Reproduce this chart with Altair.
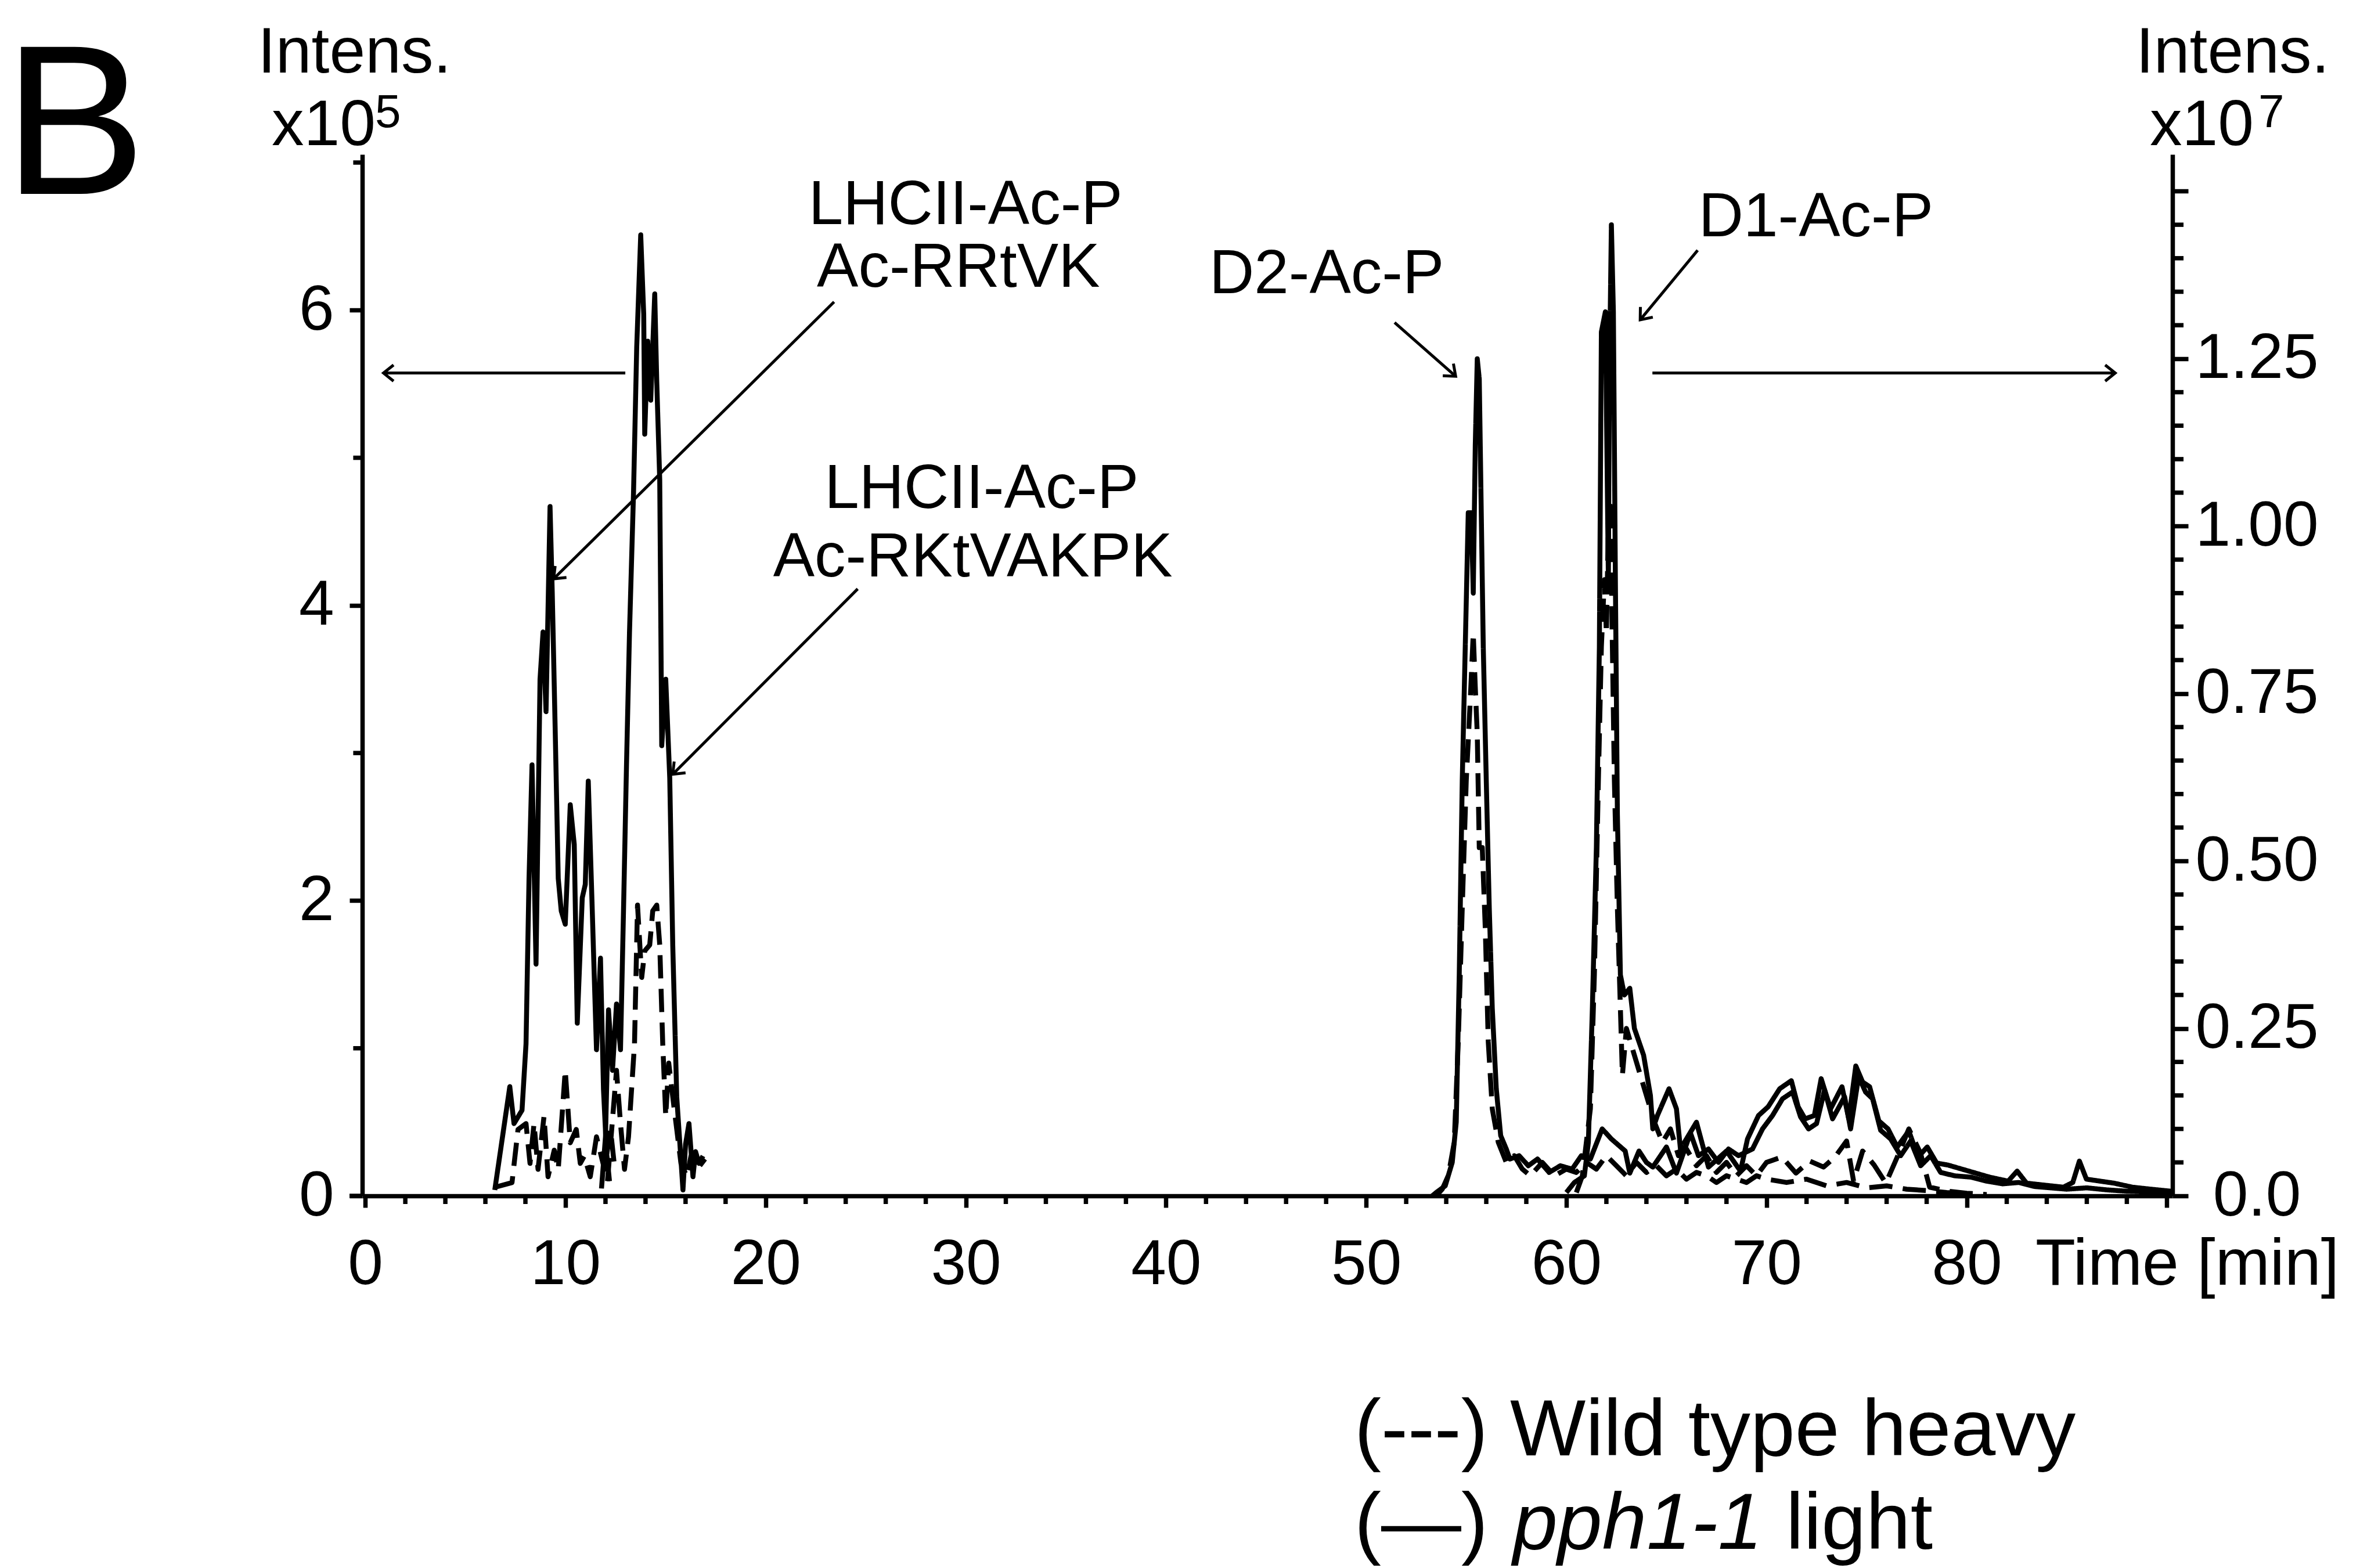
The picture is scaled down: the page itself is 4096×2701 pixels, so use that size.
import altair as alt
import pandas as pd

# ---------------- chromatogram traces ----------------
# Left axis (Intens. x10^5): LHCII-Ac-P peptides
rrtvk_light_t = [6.47, 7.22, 7.43, 7.83, 8.03, 8.18, 8.33, 8.53, 8.73, 8.88, 9.03, 9.23, 9.34, 9.49, 9.64,
                 9.79, 9.99, 10.24, 10.44, 10.59, 10.84, 10.99, 11.14, 11.34, 11.55, 11.75, 11.9, 12.05, 12.2]
rrtvk_light_v = [0.04, 0.74, 0.49, 0.58, 1.03, 2.15, 2.92, 1.57, 3.5, 3.82, 3.28, 4.67, 4.09, 3.14, 2.15,
                 1.93, 1.84, 2.65, 2.38, 1.17, 2.02, 2.11, 2.81, 1.93, 0.99, 1.61, 0.72, 0.3, 0.1]
rkt_light_t = [11.8, 12.0, 12.15, 12.35, 12.55, 12.75, 12.9, 13.05, 13.2, 13.4, 13.56, 13.76, 13.91, 13.96,
               14.11, 14.26, 14.46, 14.56, 14.71, 14.81, 15.01, 15.21, 15.36, 15.56, 15.87, 16.0, 16.17,
               16.37, 16.5, 16.67, 16.87]
rkt_light_v = [0.05, 0.4, 1.26, 0.85, 1.3, 0.99, 1.93, 2.92, 3.82, 4.76, 5.75, 6.51, 5.97, 5.16,
               5.79, 5.39, 6.11, 5.52, 4.85, 3.05, 3.5, 2.83, 1.7, 0.67, 0.04, 0.35, 0.49,
               0.13, 0.3, 0.22, 0.27]
rrtvk_heavy_t = [6.52, 7.33, 7.63, 8.03, 8.23, 8.43, 8.63, 8.93, 9.13, 9.44, 9.64, 9.99, 10.24, 10.54,
                 10.74, 10.94, 11.24, 11.55, 11.95, 12.25, 12.45]
rrtvk_heavy_v = [0.06, 0.09, 0.45, 0.49, 0.22, 0.49, 0.18, 0.54, 0.13, 0.31, 0.18, 0.85, 0.36, 0.45,
                 0.22, 0.27, 0.13, 0.4, 0.18, 0.45, 0.2]
rkt_heavy_t = [12.1, 12.55, 12.75, 12.95, 13.15, 13.45, 13.6, 13.81, 13.96, 14.21, 14.36, 14.56, 14.71,
               14.86, 15.01, 15.16, 15.36, 15.56, 15.77, 16.07, 16.27, 16.57, 16.97]
rkt_heavy_v = [0.1, 0.85, 0.49, 0.18, 0.4, 1.03, 1.97, 1.48, 1.66, 1.7, 1.93, 1.97, 1.7,
               1.03, 0.54, 0.9, 0.67, 0.45, 0.22, 0.13, 0.27, 0.18, 0.25]

# Right axis (Intens. x10^7): D2-Ac-P and D1-Ac-P
d2_light_t = [53.3, 53.5, 53.95, 54.3, 54.5, 54.65, 54.8, 54.95, 55.1, 55.25, 55.35, 55.45, 55.55, 55.65,
              55.75, 55.85, 56.0, 56.15, 56.3, 56.5, 56.72, 57.0, 57.18, 57.64, 58.1, 58.56, 59.14, 59.7,
              60.29, 60.75, 61.2, 61.79, 62.25, 62.94, 63.17, 63.63, 64.0, 64.32, 65.0, 65.5, 66.2, 66.6,
              67.1, 67.6, 68.1, 68.6, 69.3, 69.8, 70.3, 70.8, 71.3, 71.7, 72.1, 72.5, 72.9, 73.3, 73.9,
              74.2, 74.6, 74.95, 75.3, 75.7, 76.2, 76.7, 77.2, 77.7, 78.2, 78.7, 79.4, 80.2, 81.0, 81.8,
              82.6, 83.4, 84.2, 85.0, 86.0, 87.0, 88.0, 89.0, 90.2]
d2_light_v = [0.0, 0.005, 0.015, 0.05, 0.11, 0.33, 0.62, 0.82, 1.02, 1.02, 0.9, 1.12, 1.25, 1.22,
              1.02, 0.82, 0.62, 0.43, 0.28, 0.16, 0.09, 0.07, 0.055, 0.06, 0.045, 0.055, 0.035, 0.045,
              0.04, 0.06, 0.055, 0.1, 0.085, 0.067, 0.034, 0.067, 0.05, 0.043, 0.073, 0.034, 0.094, 0.06,
              0.07, 0.05, 0.07, 0.06, 0.07, 0.1, 0.12, 0.145, 0.155, 0.118, 0.1, 0.108, 0.158, 0.115, 0.148,
              0.1, 0.178, 0.155, 0.145, 0.098, 0.085, 0.06, 0.082, 0.045, 0.06, 0.035, 0.03, 0.028, 0.022,
              0.018, 0.02, 0.014, 0.012, 0.01, 0.012, 0.009, 0.007, 0.006, 0.004]
d2_heavy_t = [53.5, 53.8, 54.1, 54.4, 54.6, 54.8, 55.0, 55.2, 55.35, 55.45, 55.55, 55.65, 55.8, 55.95,
              56.1, 56.3, 56.6, 57.0, 57.4, 57.8, 58.2, 58.8, 59.4, 60.0, 60.5, 61.0, 61.5, 62.0, 62.5,
              63.0, 63.5, 64.0, 64.5, 65.0, 65.5, 66.0, 66.5, 67.0, 67.5, 68.0, 68.5, 69.0, 69.5, 70.0,
              71.0, 72.0, 73.0, 74.0, 75.0, 76.0, 77.0, 78.0, 79.0, 80.0]
d2_heavy_v = [0.0, 0.01, 0.03, 0.08, 0.23, 0.43, 0.62, 0.74, 0.84, 0.76, 0.69, 0.52, 0.52, 0.4,
              0.23, 0.13, 0.08, 0.05, 0.06, 0.04, 0.03, 0.05, 0.03, 0.04, 0.035, 0.05, 0.04, 0.06, 0.045,
              0.03, 0.05, 0.035, 0.045, 0.03, 0.04, 0.025, 0.035, 0.03, 0.02, 0.03, 0.025, 0.02, 0.03, 0.025,
              0.02, 0.025, 0.015, 0.02, 0.012, 0.015, 0.01, 0.008, 0.005, 0.003]
d1_light_t = [60.0, 60.4, 60.9, 61.1, 61.3, 61.5, 61.65, 61.75, 61.95, 62.1, 62.15, 62.25, 62.35, 62.45,
              62.55, 62.7, 62.9, 63.17, 63.4, 63.86, 64.2, 64.32, 64.55, 65.13, 65.5, 65.7, 66.5, 67.1,
              68.0, 68.7, 69.05, 69.6, 70.08, 70.66, 71.24, 71.58, 71.93, 72.39, 72.73, 73.2, 73.77, 74.11,
              74.46, 74.8, 75.15, 75.61, 76.07, 76.53, 77.11, 77.57, 78.03, 78.5, 79.07, 79.76, 80.45,
              81.14, 82.07, 82.52, 82.99, 83.9, 84.83, 85.3, 85.63, 85.98, 86.67, 87.36, 88.28, 89.2, 90.2]
d1_light_v = [0.005, 0.02, 0.03, 0.08, 0.28, 0.52, 0.82, 1.29, 1.32, 0.92, 1.22, 1.45, 1.32, 0.92,
              0.57, 0.33, 0.3, 0.31, 0.25, 0.21, 0.15, 0.1, 0.12, 0.16, 0.13, 0.07, 0.11, 0.043,
              0.067, 0.037, 0.085, 0.12, 0.133, 0.16, 0.172, 0.133, 0.115, 0.12, 0.175, 0.13, 0.163, 0.115,
              0.194, 0.17, 0.163, 0.112, 0.1, 0.073, 0.097, 0.058, 0.073, 0.049, 0.046, 0.04, 0.034,
              0.028, 0.022, 0.037, 0.019, 0.016, 0.013, 0.02, 0.052, 0.025, 0.022, 0.019, 0.013, 0.01, 0.007]
d1_heavy_t = [60.5, 60.8, 61.2, 61.4, 61.6, 61.75, 61.9, 62.0, 62.1, 62.2, 62.3, 62.4, 62.55, 62.7, 62.8,
              63.0, 63.2, 63.5, 63.8, 64.1, 64.4, 64.8, 65.2, 65.6, 66.0, 66.5, 67.0, 67.5, 68.0, 68.5,
              69.0, 69.5, 70.0, 70.77, 71.47, 72.16, 72.85, 73.42, 74.0, 74.35, 74.8, 75.38, 75.96, 76.53,
              77.11, 77.69, 78.15, 79.07, 80.0, 81.0]
d1_heavy_v = [0.005, 0.03, 0.13, 0.33, 0.62, 0.82, 0.92, 0.84, 1.0, 1.04, 0.82, 0.62, 0.43, 0.28, 0.18,
              0.25, 0.23, 0.2, 0.17, 0.14, 0.11, 0.08, 0.1, 0.06, 0.07, 0.045, 0.06, 0.035, 0.05, 0.03,
              0.045, 0.03, 0.05, 0.058, 0.034, 0.052, 0.043, 0.058, 0.082, 0.022, 0.067, 0.046, 0.019, 0.058,
              0.1, 0.064, 0.013, 0.007, 0.004, 0.002]

# ---------------- annotations ----------------
lhc_label_text = ["LHCII-Ac-P", "Ac-RRtVK", "LHCII-Ac-P", "Ac-RKtVAKPK"]
lhc_label_t = [29.99, 29.63, 30.79, 30.35]
lhc_label_v = [6.583, 6.157, 4.66, 4.197]
psii_label_text = ["D2-Ac-P", "D1-Ac-P"]
psii_label_t = [48.03, 72.47]
psii_label_v = [1.3476, 1.4325]

# arrows: tail (t, v) -> tip (t2, v2)
left_arrow_t = [23.42, 24.6, 12.99]
left_arrow_v = [6.056, 4.112, 5.574]
left_arrow_t2 = [9.41, 15.36, 0.91]
left_arrow_v2 = [4.18, 2.856, 5.574]
left_arrow_dir = [135.4, 135.0, 180.0]
right_arrow_t = [64.3, 51.42, 66.56]
right_arrow_v = [1.2286, 1.304, 1.4119]
right_arrow_t2 = [87.42, 54.47, 63.69]
right_arrow_v2 = [1.2286, 1.2237, 1.308]
right_arrow_dir = [0.0, 41.4, 129.5]

# axis ticks
x_major = list(range(0, 91, 10))
x_minor = [v for v in range(2, 90, 2) if v % 10]
yl_major = [0, 2, 4, 6]
yl_minor = [1, 3, 5, 7]
yr_major = [0, 0.25, 0.5, 0.75, 1.0, 1.25, 1.5]
yr_minor = [round(0.05 * i, 2) for i in range(1, 31) if i % 5]

# ---------------- layout / style ----------------
W, H = 3118, 1794
PAD = {"left": 624, "top": 266, "right": 4096 - 624 - W, "bottom": 2701 - 266 - H}
FONT = "Liberation Sans"
LINE_W = 8.5
AX_W = 7.5
TICK_FS = 109

xs = alt.Scale(domain=[-0.15, 90.28], nice=False, zero=False)
yls = alt.Scale(domain=[0, 7.055], nice=False, zero=False)
yrs = alt.Scale(domain=[0, 1.555], nice=False, zero=False)

common_axis = dict(domainColor="black", domainWidth=AX_W, tickColor="black", tickWidth=AX_W,
                   labelFont=FONT, labelFontSize=TICK_FS, labelColor="black", labelFlush=False,
                   labelOverlap=False, labelLimit=0, grid=False, title=None)
x_axis = alt.Axis(orient="bottom", values=x_major, tickSize=20, labelPadding=45,
                  labelExpr="datum.value <= 80 ? datum.label : ''", **common_axis)
left_axis = alt.Axis(orient="left", values=yl_major, tickSize=22, labelPadding=27, **common_axis)
right_axis = alt.Axis(orient="right", values=yr_major, tickSize=27, labelPadding=118, labelAlign="center",
                      labelExpr="datum.value == 0 ? '0.0' : (datum.value > 1.3 ? '' : format(datum.value, '.2f'))",
                      **common_axis)


def X(field):
    return alt.X(field, type="quantitative", scale=xs, axis=x_axis)


def trace(t, v, name, cond):
    return pd.DataFrame({"t": t, "v": v, "trace": name, "cond": cond})


left_df = pd.concat([
    trace(rrtvk_light_t, rrtvk_light_v, "rrtvk_light", "light"),
    trace(rkt_light_t, rkt_light_v, "rkt_light", "light"),
    trace(rrtvk_heavy_t, rrtvk_heavy_v, "rrtvk_heavy", "heavy"),
    trace(rkt_heavy_t, rkt_heavy_v, "rkt_heavy", "heavy"),
])
right_df = pd.concat([
    trace(d2_light_t, d2_light_v, "d2_light", "light"),
    trace(d2_heavy_t, d2_heavy_v, "d2_heavy", "heavy"),
    trace(d1_light_t, d1_light_v, "d1_light", "light"),
    trace(d1_heavy_t, d1_heavy_v, "d1_heavy", "heavy"),
])

dash = alt.StrokeDash("cond:N", scale=alt.Scale(domain=["light", "heavy"], range=[[1, 0], [40, 18]]),
                      legend=None)

left_lines = alt.Chart(left_df).mark_line(color="black", strokeWidth=LINE_W, strokeJoin="round").encode(
    x=X("t"), y=alt.Y("v:Q", scale=yls, axis=left_axis), detail="trace:N", strokeDash=dash)
right_lines = alt.Chart(right_df).mark_line(color="black", strokeWidth=LINE_W, strokeJoin="round").encode(
    x=X("t"), y=alt.Y("v:Q", scale=yrs, axis=right_axis), detail="trace:N", strokeDash=dash)

# minor ticks
x_minor_ticks = alt.Chart(pd.DataFrame({"t": x_minor})).mark_rule(color="black", strokeWidth=AX_W).encode(
    x=X("t"), y=alt.value(H), y2=alt.value(H + 14))
yl_minor_ticks = alt.Chart(pd.DataFrame({"v": yl_minor})).mark_rule(color="black", strokeWidth=AX_W).encode(
    y=alt.Y("v:Q", scale=yls, axis=None), x=alt.value(0), x2=alt.value(-15.6))
yr_minor_ticks = alt.Chart(pd.DataFrame({"v": yr_minor})).mark_rule(color="black", strokeWidth=AX_W).encode(
    y=alt.Y("v:Q", scale=yrs, axis=None), x=alt.value(W), x2=alt.value(W + 19))
x_axis_ext = alt.Chart(pd.DataFrame({"a": [0]})).mark_rule(color="black", strokeWidth=AX_W).encode(
    x=alt.value(-22), x2=alt.value(0), y=alt.value(H))

# annotation labels
lhc_labels = alt.Chart(pd.DataFrame({"t": lhc_label_t, "v": lhc_label_v, "s": lhc_label_text})).mark_text(
    font=FONT, fontSize=107, align="center", baseline="alphabetic", color="black").encode(
    x=X("t"), y=alt.Y("v:Q", scale=yls, axis=None), text="s:N")
psii_labels = alt.Chart(pd.DataFrame({"t": psii_label_t, "v": psii_label_v, "s": psii_label_text})).mark_text(
    font=FONT, fontSize=107, align="center", baseline="alphabetic", color="black").encode(
    x=X("t"), y=alt.Y("v:Q", scale=yrs, axis=None), text="s:N")

ARROW_W = 5
HEAD = "M-1,-0.8L0,0L-1,0.8"
la_df = pd.DataFrame({"t": left_arrow_t, "v": left_arrow_v, "t2": left_arrow_t2, "v2": left_arrow_v2,
                      "a": left_arrow_dir})
ra_df = pd.DataFrame({"t": right_arrow_t, "v": right_arrow_v, "t2": right_arrow_t2, "v2": right_arrow_v2,
                      "a": right_arrow_dir})
la_shaft = alt.Chart(la_df).mark_rule(color="black", strokeWidth=ARROW_W).encode(
    x=X("t"), x2="t2:Q", y=alt.Y("v:Q", scale=yls, axis=None), y2="v2:Q")
la_head = alt.Chart(la_df).mark_point(shape=HEAD, filled=False, color="black", strokeWidth=ARROW_W,
                                      size=1200, opacity=1).encode(
    x=X("t2"), y=alt.Y("v2:Q", scale=yls, axis=None), angle=alt.Angle("a:Q", scale=None))
ra_shaft = alt.Chart(ra_df).mark_rule(color="black", strokeWidth=ARROW_W).encode(
    x=X("t"), x2="t2:Q", y=alt.Y("v:Q", scale=yrs, axis=None), y2="v2:Q")
ra_head = alt.Chart(ra_df).mark_point(shape=HEAD, filled=False, color="black", strokeWidth=ARROW_W,
                                      size=1200, opacity=1).encode(
    x=X("t2"), y=alt.Y("v2:Q", scale=yrs, axis=None), angle=alt.Angle("a:Q", scale=None))


def ptext(s, x, y, size, style="normal"):
    return alt.Chart(pd.DataFrame({"s": [s]})).mark_text(
        font=FONT, fontSize=size, fontStyle=style, align="left", baseline="alphabetic", color="black"
    ).encode(x=alt.value(x), y=alt.value(y), text="s:N")


texts = [
    ptext("B", -618, 68, 368),
    ptext("Intens.", -180, -141, 111),
    ptext("x10", -156, -16, 111),
    ptext("5", 22, -47, 80),
    ptext("Intens.", 3055, -141, 111),
    ptext("x10", 3079, -16, 111),
    ptext("7", 3266, -47, 80),
    ptext("Time [min]", 2882, 1947, 113),
    ptext("(---) Wild type heavy", 1709, 2241, 138),
    ptext("(\u2014)", 1709, 2402, 138),
    ptext("pph1-1", 1982, 2402, 138, "italic"),
    ptext("light", 2452, 2402, 138),
]

chart = alt.layer(
    left_lines, right_lines, x_minor_ticks, yl_minor_ticks, yr_minor_ticks, x_axis_ext,
    lhc_labels, psii_labels, la_shaft, la_head, ra_shaft, ra_head, *texts
).resolve_scale(y="independent").properties(
    width=W, height=H, padding=PAD, autosize=alt.AutoSizeParams(type="none"), background="white"
).configure_view(stroke=None)

chart.save("out.html", embed_options={"renderer": "svg", "actions": False})
